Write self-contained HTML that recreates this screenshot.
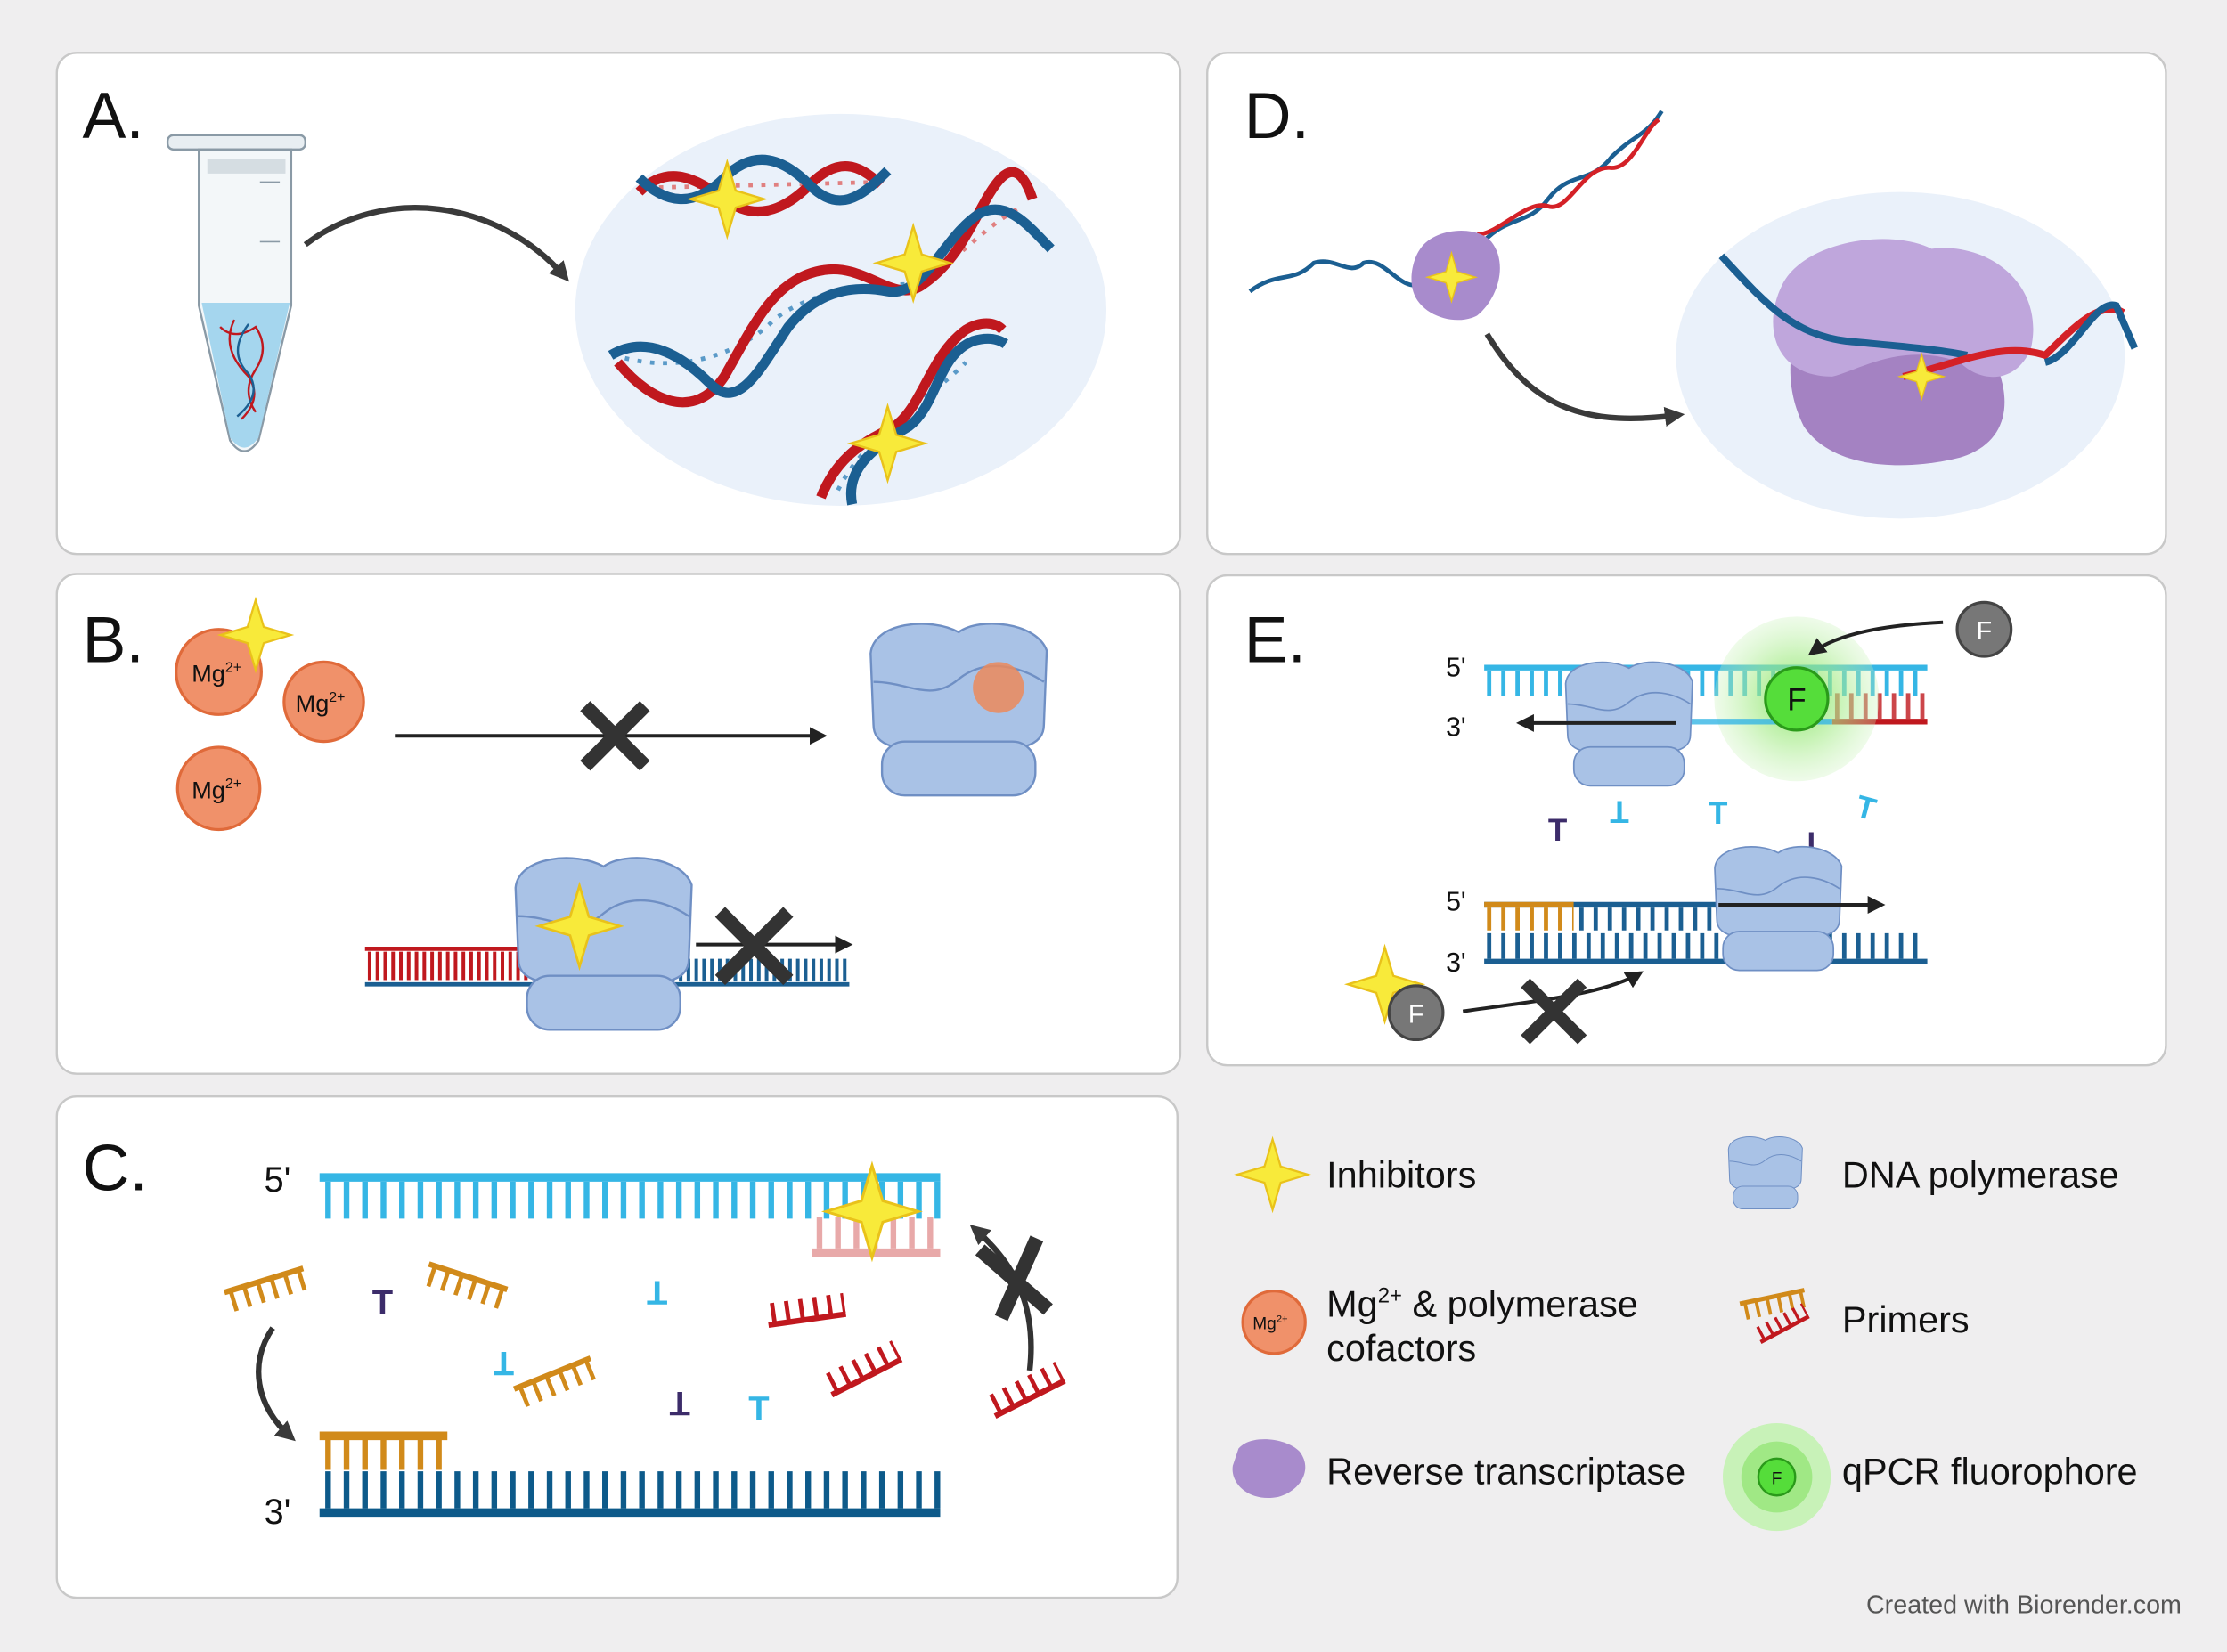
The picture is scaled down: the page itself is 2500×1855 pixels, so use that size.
<!DOCTYPE html>
<html><head><meta charset="utf-8"><style>
html,body{margin:0;padding:0;background:#efeeef;}
svg{display:block;}
text{font-family:"Liberation Sans",sans-serif;}
</style></head><body>
<svg width="2500" height="1855" viewBox="0 0 1568 1163" xmlns="http://www.w3.org/2000/svg">
<defs>
<marker id="ah" viewBox="0 0 10 10" refX="8" refY="5" markerWidth="5" markerHeight="5" orient="auto"><path d="M0,0L10,5L0,10z" fill="#222"/></marker>
<marker id="ahb" viewBox="0 0 10 10" refX="7" refY="5" markerWidth="3.5" markerHeight="3.5" orient="auto"><path d="M0,0L10,5L0,10z" fill="#3a3a3a"/></marker>
<g id="star"><path d="M0,-26 L6,-6 L26,0 L6,6 L0,26 L-6,6 L-26,0 L-6,-6Z" fill="#f8ea3a" stroke="#e9c21a" stroke-width="1.5"/></g>
<g id="pol">
<path d="M-62,-40 C-60,-62 -20,-66 0,-55 C15,-66 55,-62 62,-42 L60,10 C60,25 45,30 0,28 C-45,30 -60,25 -60,10Z" fill="#a9c2e6" stroke="#6f8fc4" stroke-width="1.5"/>
<path d="M-60,-20 C-35,-20 -20,-5 0,-22 C20,-38 45,-30 60,-20" fill="none" stroke="#6f8fc4" stroke-width="1.5"/>
<rect x="-54" y="22" width="108" height="38" rx="16" fill="#a9c2e6" stroke="#6f8fc4" stroke-width="1.5"/>
</g>
<g id="primO"><line x1="0" y1="0" x2="58" y2="0" stroke="#d18a1a" stroke-width="4"/><line x1="3" y1="8" x2="58" y2="8" stroke="#d18a1a" stroke-width="14" stroke-dasharray="3 7"/></g>
<g id="primR"><line x1="0" y1="8" x2="55" y2="8" stroke="#c0181e" stroke-width="4"/><line x1="3" y1="0" x2="55" y2="0" stroke="#c0181e" stroke-width="14" stroke-dasharray="3 7"/></g>
<radialGradient id="glow"><stop offset="0" stop-color="#7fe05a" stop-opacity="0.9"/><stop offset="0.55" stop-color="#a8ec8c" stop-opacity="0.6"/><stop offset="1" stop-color="#c8f2b8" stop-opacity="0.3"/></radialGradient>
</defs>
<rect width="1568" height="1163" fill="#efeeef"/>
<g fill="#fff" stroke="#c8c8c8" stroke-width="1.5">
<rect x="40" y="37" width="791" height="353" rx="14"/>
<rect x="850" y="37" width="675" height="353" rx="14"/>
<rect x="40" y="404" width="791" height="352" rx="14"/>
<rect x="850" y="405" width="675" height="345" rx="14"/>
<rect x="40" y="772" width="789" height="353" rx="14"/>
</g>
<g font-size="46" fill="#111">
<text x="58" y="97">A.</text><text x="876" y="97">D.</text>
<text x="58" y="466">B.</text><text x="876" y="466">E.</text>
<text x="58" y="838">C.</text>
</g>

<!-- Panel A -->
<rect x="118" y="95" width="97" height="10" rx="4" fill="#e8eef2" stroke="#8a9aa6" stroke-width="1.5"/>
<path d="M140,105 L205,105 L205,215 L182,310 Q172,325 162,310 L140,215Z" fill="#f3f7f9" stroke="#8a9aa6" stroke-width="1.5"/>
<path d="M142,213 L204,213 L182,308 Q172,322 162,308Z" fill="#a5d6ee"/>
<rect x="146" y="112" width="55" height="10" fill="#d5dde2"/>
<path d="M183,128h14M183,170h14" stroke="#8a9aa6"/>
<path d="M155,230 q10,10 25,0 q10,15 0,30 q-10,15 0,30 M165,225 q-10,20 10,40 q10,15 -5,30" stroke="#c0181e" stroke-width="1.5" fill="none"/>
<path d="M175,228 q-15,20 0,35 q10,15 -8,30" stroke="#1b5f92" stroke-width="1.5" fill="none"/>
<ellipse cx="592" cy="218" rx="187" ry="138" fill="#eaf1fa"/>
<path d="M215,172 C270,130 350,140 398,195" fill="none" stroke="#3a3a3a" stroke-width="4" marker-end="url(#ahb)"/>
<g fill="none" stroke-width="3" stroke-dasharray="3 6">
<path d="M455,132 L620,128" stroke="#e08080"/>
<path d="M440,252 C480,262 520,250 545,225 C570,205 610,200 640,200" stroke="#5a9ac8"/>
<path d="M640,200 C670,190 690,160 720,145" stroke="#e08080"/>
<path d="M590,345 C610,305 650,285 680,255" stroke="#5a9ac8"/>
</g>
<g fill="none" stroke-width="7">
<path d="M450,135 C470,115 490,125 510,140 C530,155 550,150 570,130 C590,110 605,115 620,130" stroke="#c0181e"/>
<path d="M450,125 C470,145 490,145 510,125 C530,105 550,110 570,130 C590,150 605,140 625,120" stroke="#1b5f92"/>
<path d="M435,255 C460,285 490,295 510,265 C530,230 545,195 580,190 C610,185 630,215 650,200 C680,180 690,140 705,125 C715,115 722,125 727,140" stroke="#c0181e"/>
<path d="M430,250 C455,235 480,250 500,270 C520,290 535,260 555,230 C575,205 600,200 625,205 C650,210 665,165 690,150 C710,140 725,160 740,175" stroke="#1b5f92"/>
<path d="M578,350 C590,320 610,310 630,300 C650,285 655,250 680,232 C690,226 700,226 706,232" stroke="#c0181e"/>
<path d="M600,355 C595,330 615,315 640,300 C660,285 660,250 685,240 C695,237 702,238 708,242" stroke="#1b5f92"/>
</g>
<use href="#star" x="512" y="140"/><use href="#star" x="643" y="185"/><use href="#star" x="625" y="312"/>

<!-- Panel D -->
<path d="M880,205 C900,190 910,200 925,185 C940,180 950,195 960,185 C975,180 985,205 1000,200" fill="none" stroke="#1b5f92" stroke-width="3"/>
<path d="M1040,175 C1060,150 1075,160 1090,140 C1105,120 1120,130 1135,110 C1150,95 1160,95 1170,78" fill="none" stroke="#1b5f92" stroke-width="3"/>
<path d="M1040,165 C1055,165 1075,140 1090,145 C1105,150 1115,115 1135,118 C1150,118 1158,90 1168,84" fill="none" stroke="#d42127" stroke-width="3"/>
<path d="M1000,175 C1010,160 1040,158 1050,170 C1062,185 1055,210 1040,222 C1025,230 1000,222 995,205 C992,195 995,182 1000,175Z" fill="#a88bcc"/>
<use href="#star" transform="translate(1022,195) scale(0.65)"/>
<ellipse cx="1338" cy="250" rx="158" ry="115" fill="#eaf1fa"/>
<path d="M1047,235 C1080,290 1120,300 1182,292" fill="none" stroke="#3a3a3a" stroke-width="4" marker-end="url(#ahb)"/>
<path d="M1270,220 C1300,180 1360,190 1390,230 C1420,270 1420,310 1380,322 C1340,332 1290,330 1270,300 C1255,270 1260,240 1270,220Z" fill="#a482c2"/>
<path d="M1255,200 C1270,170 1330,160 1360,175 C1400,170 1440,200 1430,245 C1420,270 1395,270 1380,255 C1340,240 1310,260 1290,265 C1250,265 1240,230 1255,200Z" fill="#bfa6dc"/>
<path d="M1212,180 C1240,210 1260,235 1300,240 C1330,243 1360,245 1385,250" fill="none" stroke="#1b5f92" stroke-width="5"/>
<path d="M1340,265 C1380,255 1410,240 1440,250 C1460,230 1480,210 1495,220" fill="none" stroke="#d42127" stroke-width="5"/>
<path d="M1440,255 C1460,250 1475,210 1490,215 L1503,245" fill="none" stroke="#1b5f92" stroke-width="5"/>
<use href="#star" transform="translate(1353,265) scale(0.6)"/>

<!-- Panel B -->
<g fill="#f0916a" stroke="#e06a3a" stroke-width="2">
<circle cx="154" cy="473" r="30"/><circle cx="228" cy="494" r="28"/><circle cx="154" cy="555" r="29"/>
</g>
<g font-size="17" fill="#111">
<text x="135" y="480">Mg<tspan font-size="10" dy="-7">2+</tspan></text>
<text x="208" y="501">Mg<tspan font-size="10" dy="-7">2+</tspan></text>
<text x="135" y="562">Mg<tspan font-size="10" dy="-7">2+</tspan></text>
</g>
<use href="#star" transform="translate(180,447) scale(0.95)"/>
<line x1="278" y1="518" x2="580" y2="518" stroke="#222" stroke-width="2.5" marker-end="url(#ah)"/>
<path d="M412,497 L454,539 M454,497 L412,539" stroke="#333" stroke-width="10"/>
<use href="#pol" transform="translate(675,500)"/>
<circle cx="703" cy="484" r="18" fill="#ec8a5a" opacity="0.85"/>
<line x1="257" y1="668" x2="390" y2="668" stroke="#c0181e" stroke-width="3"/>
<line x1="259" y1="680" x2="390" y2="680" stroke="#c0181e" stroke-width="20" stroke-dasharray="2.5 3"/>
<line x1="257" y1="693" x2="598" y2="693" stroke="#1b5f92" stroke-width="3"/>
<line x1="390" y1="683" x2="598" y2="683" stroke="#1b5f92" stroke-width="16" stroke-dasharray="2.5 3"/>
<use href="#pol" transform="translate(425,665)"/>
<use href="#star" transform="translate(408,652) scale(1.1)"/>
<line x1="490" y1="665" x2="598" y2="665" stroke="#222" stroke-width="2.5" marker-end="url(#ah)"/>
<path d="M507,642 L555,690 M555,642 L507,690" stroke="#333" stroke-width="10"/>

<!-- Panel E -->
<g font-size="19" fill="#111"><text x="1018" y="476">5'</text><text x="1018" y="518">3'</text><text x="1018" y="641">5'</text><text x="1018" y="684">3'</text></g>
<line x1="1045" y1="470" x2="1357" y2="470" stroke="#35b6e5" stroke-width="4"/>
<line x1="1047" y1="481" x2="1357" y2="481" stroke="#35b6e5" stroke-width="18" stroke-dasharray="3 7"/>
<line x1="1290" y1="508" x2="1357" y2="508" stroke="#c0181e" stroke-width="4"/>
<line x1="1292" y1="497" x2="1357" y2="497" stroke="#c0181e" stroke-width="18" stroke-dasharray="3 7" opacity="0.8"/>
<circle cx="1265" cy="492" r="58" fill="url(#glow)"/>
<line x1="1180" y1="508" x2="1290" y2="508" stroke="#35b6e5" stroke-width="4" opacity="0.8"/>
<g transform="translate(1147,510) scale(0.72)"><use href="#pol"/></g>
<line x1="1180" y1="509" x2="1070" y2="509" stroke="#222" stroke-width="2.5" marker-end="url(#ah)"/>
<circle cx="1265" cy="492" r="22" fill="#55dd3a" stroke="#2a9a1a" stroke-width="2"/>
<text x="1265" y="500" font-size="22" text-anchor="middle" fill="#111">F</text>
<path d="M1368,438 C1330,440 1295,445 1275,460" fill="none" stroke="#222" stroke-width="2.5" marker-end="url(#ah)"/>
<circle cx="1397" cy="443" r="19" fill="#777" stroke="#444" stroke-width="2"/>
<text x="1397" y="450" font-size="18" text-anchor="middle" fill="#fff">F</text>
<g font-size="22" font-weight="bold">
<text x="1090" y="592" fill="#3c2c6a">T</text>
<text x="1135" y="578" fill="#35b6e5" transform="rotate(180 1141 571)">T</text>
<text x="1203" y="580" fill="#35b6e5">T</text>
<text x="1268" y="600" fill="#3c2c6a" transform="rotate(180 1275 593)">T</text>
<text x="1307" y="576" fill="#35b6e5" transform="rotate(15 1313 569)">T</text>
</g>
<line x1="1045" y1="637" x2="1215" y2="637" stroke="#1b5f92" stroke-width="4"/>
<line x1="1045" y1="637" x2="1108" y2="637" stroke="#d18a1a" stroke-width="4"/>
<line x1="1047" y1="647" x2="1108" y2="647" stroke="#d18a1a" stroke-width="16" stroke-dasharray="3 7"/>
<line x1="1112" y1="647" x2="1215" y2="647" stroke="#1b5f92" stroke-width="16" stroke-dasharray="3 7"/>
<line x1="1045" y1="677" x2="1357" y2="677" stroke="#1b5f92" stroke-width="4"/>
<line x1="1047" y1="666" x2="1357" y2="666" stroke="#1b5f92" stroke-width="18" stroke-dasharray="3 7"/>
<g transform="translate(1252,640) scale(0.72)"><use href="#pol"/></g>
<line x1="1210" y1="637" x2="1325" y2="637" stroke="#222" stroke-width="2.5" marker-end="url(#ah)"/>
<use href="#star" transform="translate(975,693) scale(1)"/>
<circle cx="997" cy="713" r="19" fill="#777" stroke="#444" stroke-width="2"/>
<text x="997" y="720" font-size="18" text-anchor="middle" fill="#fff">F</text>
<path d="M1030,712 C1080,705 1130,700 1155,685" fill="none" stroke="#222" stroke-width="2.5" marker-end="url(#ah)"/>
<path d="M1074,692 L1114,732 M1114,692 L1074,732" stroke="#333" stroke-width="9"/>

<!-- Panel C -->
<g font-size="25" fill="#111"><text x="186" y="839">5'</text><text x="186" y="1073">3'</text></g>
<line x1="225" y1="829" x2="662" y2="829" stroke="#35b6e5" stroke-width="6"/>
<line x1="229" y1="845" x2="662" y2="845" stroke="#35b6e5" stroke-width="26" stroke-dasharray="4 9"/>
<line x1="572" y1="882" x2="662" y2="882" stroke="#e8a9a9" stroke-width="6"/>
<line x1="575" y1="868" x2="662" y2="868" stroke="#e8a9a9" stroke-width="22" stroke-dasharray="4 9"/>
<use href="#star" transform="translate(614,853) scale(1.25)"/>
<line x1="225" y1="1065" x2="662" y2="1065" stroke="#0d5a8a" stroke-width="6"/>
<line x1="229" y1="1049" x2="662" y2="1049" stroke="#0d5a8a" stroke-width="26" stroke-dasharray="4 9"/>
<line x1="225" y1="1011" x2="315" y2="1011" stroke="#d18a1a" stroke-width="6"/>
<line x1="229" y1="1024" x2="315" y2="1024" stroke="#d18a1a" stroke-width="22" stroke-dasharray="4 9"/>
<g transform="translate(158,910) rotate(-17)"><use href="#primO"/></g>
<g transform="translate(302,890) rotate(18)"><use href="#primO"/></g>
<g transform="translate(362,978) rotate(-22)"><use href="#primO"/></g>
<g transform="translate(540,925) rotate(-8)"><use href="#primR"/></g>
<g transform="translate(582,975) rotate(-27)"><use href="#primR"/></g>
<g transform="translate(697,990) rotate(-27)"><use href="#primR"/></g>
<g font-size="24" font-weight="bold">
<text x="262" y="925" fill="#3c2c6a">T</text>
<text x="456" y="918" fill="#35b6e5" transform="rotate(180 463 910)">T</text>
<text x="346" y="968" fill="#35b6e5" transform="rotate(180 354 960)">T</text>
<text x="472" y="996" fill="#3c2c6a" transform="rotate(180 479 988)">T</text>
<text x="527" y="1000" fill="#35b6e5">T</text>
</g>
<path d="M192,935 C175,960 180,990 205,1012" fill="none" stroke="#333" stroke-width="4" marker-end="url(#ahb)"/>
<path d="M725,965 C730,920 715,890 686,865" fill="none" stroke="#333" stroke-width="4" marker-end="url(#ahb)"/>
<path d="M690,880 L738,922 M730,872 L705,928" stroke="#333" stroke-width="10"/>

<!-- Legend -->
<use href="#star" transform="translate(896,827) scale(0.95)"/>
<g transform="translate(1243,826) scale(0.42)"><use href="#pol"/></g>
<circle cx="897" cy="931" r="22" fill="#f0916a" stroke="#e06a3a" stroke-width="2"/>
<text x="882" y="936" font-size="12" fill="#111">Mg<tspan font-size="7" dy="-5">2+</tspan></text>
<g transform="translate(1225,918) rotate(-12) scale(0.8)"><use href="#primO"/></g>
<g transform="translate(1237,940) rotate(-28) scale(0.7)"><use href="#primR"/></g>
<path d="M872,1020 C880,1010 905,1012 915,1022 C925,1035 915,1050 900,1054 C880,1058 866,1045 868,1032Z" fill="#a88bcc"/>
<circle cx="1251" cy="1040" r="38" fill="#c8f2b8"/>
<circle cx="1251" cy="1040" r="25" fill="#a0e885"/>
<circle cx="1251" cy="1040" r="13" fill="#55dd3a" stroke="#2a9a1a" stroke-width="1.5"/>
<text x="1251" y="1045" font-size="12" text-anchor="middle" fill="#111">F</text>
<g font-size="26" fill="#111">
<text x="934" y="836">Inhibitors</text>
<text x="1297" y="836">DNA polymerase</text>
<text x="934" y="927">Mg<tspan font-size="15" dy="-10">2+</tspan><tspan dy="10"> &amp; polymerase</tspan></text>
<text x="934" y="958">cofactors</text>
<text x="1297" y="938">Primers</text>
<text x="934" y="1045">Reverse transcriptase</text>
<text x="1297" y="1045">qPCR  fluorophore</text>
</g>
<text x="1536" y="1136" font-size="18" fill="#555" text-anchor="end">Created with Biorender.com</text>
</svg>
</body></html>
